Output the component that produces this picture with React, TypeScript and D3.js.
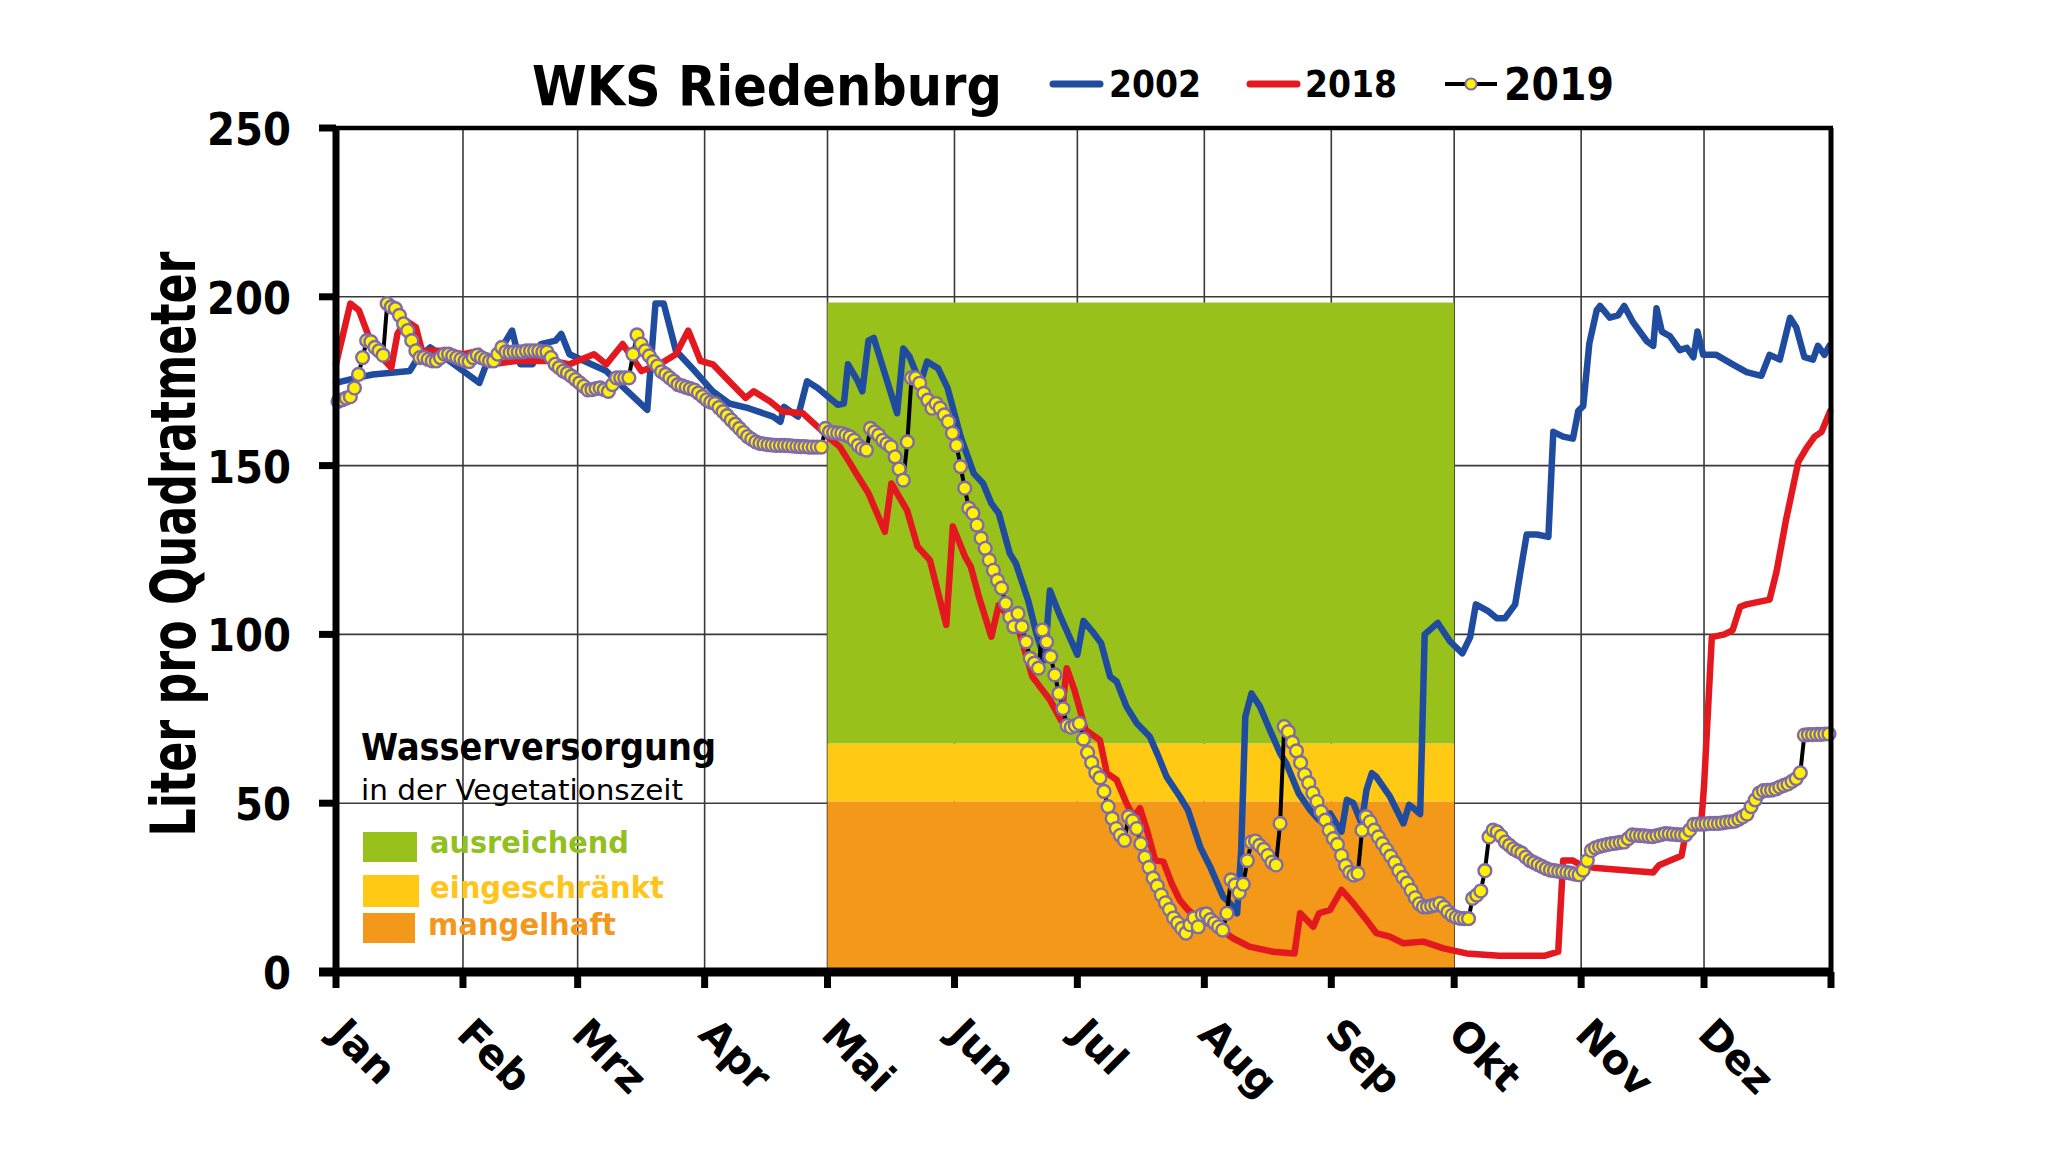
import React from 'react';
import * as d3 from 'd3';

// ---------- axis / category data ----------
const monthLabels = ['Jan', 'Feb', 'Mrz', 'Apr', 'Mai', 'Jun', 'Jul', 'Aug', 'Sep', 'Okt', 'Nov', 'Dez'];
const monthStartDays = [0, 31, 59, 90, 120, 151, 181, 212, 243, 273, 304, 334, 365];
const yTicks = [0, 50, 100, 150, 200, 250];

// ---------- supply classes (vegetation period May 1 - Oct 1) ----------
const zoneStartDay = 120;
const zoneEndDay = 273;
const zoneBounds = [0, 50.5, 67.7, 198.3];
const zoneNames = ['mangelhaft', 'eingeschränkt', 'ausreichend'];

// ---------- 2002 (day of year, value) ----------
const days2002 = [0, 5, 9, 18, 19.5, 23, 26.6, 35, 37, 40.5, 43, 45, 48, 50, 53.6, 55, 57, 60.6, 66, 69, 76, 78, 80, 83, 87.6, 92, 96, 100.7, 106.7, 108.5, 109.4, 112.8, 115, 117.6, 122.5, 124, 125, 127.4, 128.5, 130, 131.3, 137, 138.5, 140, 142.7, 144.3, 147, 149.3, 152.5, 155.7, 158, 160, 161.8, 164.5, 166, 169, 171, 173, 174.3, 176.6, 181, 182.5, 184.6, 186.8, 189, 190.6, 193, 195.5, 198.7, 200.8, 202.8, 206, 208, 211, 213.4, 216.6, 218.3, 220, 221, 222, 223.5, 225.6, 228, 230.5, 232, 235, 237.8, 240, 242.7, 244.7, 245.5, 246.8, 248.4, 250.4, 251.6, 252.9, 254, 257.3, 260.6, 262, 263.4, 264.7, 265.8, 269, 272, 275, 276.9, 278.3, 281.4, 283.4, 285.4, 287.9, 289, 290.7, 293.2, 296, 297.2, 299.6, 302, 303.3, 304.5, 306, 307.8, 308.6, 311, 313, 314.5, 316.7, 320, 321.6, 322.4, 323.7, 325.7, 328.1, 329.8, 331.4, 332.4, 333.8, 337, 341, 344.4, 348, 350, 352.5, 355, 356.5, 358.5, 360.6, 361.8, 363.4, 364.6];
const values2002 = [174.5, 176, 177, 178, 181, 185, 182, 174.5, 181, 185, 190, 180, 180, 186, 187, 189, 183, 181, 178, 174.5, 166.5, 198, 198, 184, 178, 172, 168.4, 167, 164.5, 163, 167.4, 164.5, 175, 173, 168, 168.4, 180, 175, 172, 187, 187.8, 165.5, 184.7, 182.3, 174.4, 180.8, 178.8, 173, 158.6, 147.7, 144.7, 138.8, 135.9, 124, 121, 110, 100.3, 92.4, 113, 106, 94, 104, 101, 97.4, 87.5, 86, 78.6, 73.7, 69.7, 63.8, 57.8, 52, 48, 37, 31.2, 22.3, 20.3, 17.4, 36, 75.6, 82.5, 78.6, 71.7, 64.8, 61.8, 53, 48, 45, 47, 43, 41.6, 51, 50, 44, 54, 58.9, 57.8, 52, 44, 49.5, 48.2, 46.8, 100, 103.4, 97.9, 94.4, 99.2, 108.9, 106.8, 104.8, 104.8, 108.9, 117.2, 129.6, 129.6, 128.9, 160, 158.6, 158, 166.2, 167.6, 186.2, 196, 197.3, 193.8, 194.5, 197.3, 192.4, 186.9, 185.5, 196.6, 189.7, 188.3, 184.2, 184.9, 182.1, 189.7, 182.8, 182.8, 180, 177.7, 176.6, 182.8, 181.4, 193.8, 191, 182.1, 181.4, 185.5, 182.8, 185.5];

// ---------- 2018 (day of year, value) ----------
const days2018 = [0, 3.5, 5.6, 9, 13.5, 15, 17, 19.5, 21, 26.6, 31, 35, 38, 44, 53, 57, 63, 66, 70, 74.6, 79, 83, 86, 89, 92, 96, 100, 102, 106, 109, 114, 117.6, 120, 123, 125, 127.5, 130, 134, 135.6, 139.4, 142, 145, 149, 150.6, 153.6, 155, 157, 160, 161.8, 164.5, 166.7, 170, 174.3, 177, 178.4, 180.3, 183, 186.5, 188.2, 190.6, 193, 194.7, 196.3, 198, 200, 202, 204, 206, 208, 211, 215, 219, 223, 228.8, 234, 235.4, 238.6, 240, 242.7, 245.5, 248.4, 251.6, 254, 257.3, 260.6, 265.5, 270.4, 276, 284, 295, 298.4, 299.6, 302, 304, 307, 321.6, 323, 328.5, 329.8, 333.4, 334, 335.9, 339, 341, 342.8, 344.4, 350, 351.7, 354, 357, 359, 361, 362.7, 364.8];
const values2018 = [180, 198, 196, 185, 179, 189, 193, 191, 184, 184, 183, 184, 180, 181, 181, 180, 183, 180, 186, 178, 180, 183, 190, 181, 180, 175, 170, 172, 169, 166, 165.5, 161.5, 158.6, 155.6, 151.7, 146.7, 141.8, 130.4, 144.7, 136.8, 126, 122, 102.8, 132, 123, 120, 111, 99.3, 108.7, 105, 101.3, 87.5, 80.6, 74.6, 90, 83.5, 71.7, 68.7, 58.9, 56.9, 50, 46, 48.5, 42, 33, 32.7, 26.3, 21.3, 18.4, 15.4, 13.4, 10, 7.5, 6, 5.5, 17.4, 13.4, 17.4, 18.4, 24.3, 20.3, 15.4, 11.5, 10.5, 8.5, 9, 7, 5.5, 4.8, 4.8, 6, 33, 33, 31.6, 30.9, 29.5, 31.6, 34.4, 42.7, 45.4, 55, 99.2, 100, 101.3, 108.2, 108.9, 110.3, 118.6, 133.8, 151, 155.2, 158.6, 160, 166.2];

// ---------- 2019 daily values, one array per month ----------
const v2019Jan = [169, 169.5, 170, 170.4, 173, 177, 182, 187, 186.7, 185, 184, 182.7, 198, 197, 196.5, 194.5, 192, 190, 187, 184, 182, 182, 181.5, 181, 181, 182, 183, 183, 182.5, 182, 181.5];
const v2019Feb = [181, 180.8, 182, 182.7, 182, 181.5, 181, 181, 183, 185, 183.7, 183.5, 183.7, 183.7, 183.7, 184, 184, 184, 184, 183.7, 183.7, 182, 180, 179, 178, 177.4, 176.5, 175.5];
const v2019Mar = [174.5, 173.5, 172.4, 172.5, 172.8, 173, 172.5, 172, 174, 176, 176, 176, 176, 183, 188.7, 186, 184, 182.5, 180.8, 179.5, 177.8, 177, 176, 175, 174, 173.6, 173.2, 172.8, 172.4, 171.5, 170.5];
const v2019Apr = [169.5, 168.8, 168.4, 167.2, 166, 164.8, 163.5, 162.3, 161, 159.8, 158.6, 157.8, 157, 156.6, 156.4, 156.2, 156.1, 156, 156, 156, 155.9, 155.8, 155.7, 155.6, 155.6, 155.5, 155.5, 155.5, 155.5, 161];
const v2019May = [160, 159.8, 159.6, 159.5, 159, 158.5, 157.5, 156, 155, 154.6, 161, 160, 159, 157.5, 156.5, 155.6, 152.6, 149, 145.7, 157, 176, 176, 174.4, 171.4, 169.4, 167, 168.4, 167, 165, 163, 159.6];
const v2019Jun = [156, 149.7, 143.3, 137.4, 135.9, 132.4, 128.5, 125.5, 122, 119, 116, 113.7, 109.2, 105.2, 102.3, 106.2, 102.3, 97.8, 92.9, 91.5, 90, 101.3, 97.8, 93.4, 88, 82.5, 78, 73, 72.5, 73];
const v2019Jul = [73.6, 69, 65, 62, 59, 57.5, 53.5, 49, 45.5, 42.5, 40.5, 39, 46, 44.8, 42.5, 38, 34, 31, 27.8, 25.5, 22.8, 20.5, 18.5, 16, 14.5, 12.9, 11.5, 14, 16, 13.4, 17];
const v2019Aug = [17.2, 15.5, 14.5, 13.4, 12.4, 17.4, 27.3, 25.8, 23.5, 26, 33, 38.5, 38.8, 37.5, 36.3, 34.5, 32.5, 31.7, 44, 72.7, 71.2, 68, 65.5, 62, 58.5, 56, 53, 50.5, 47.5, 45, 42];
const v2019Sep = [39.5, 37.8, 34.5, 31.5, 29.5, 28.7, 29.2, 42, 46, 44.5, 42, 40, 38, 36.2, 34.3, 32.4, 30, 28, 26.3, 24.2, 22, 20.2, 19.3, 19.3, 19.6, 19.9, 20.3, 19.2, 17.8, 16.8];
const v2019Oct = [16.2, 15.9, 15.8, 15.8, 21.8, 22.8, 24, 30, 40, 42, 41.5, 40.2, 38.5, 37.5, 36.5, 35.8, 35.2, 34, 33, 32.4, 31.8, 31.2, 30.6, 30.2, 30, 29.8, 29.7, 29.5, 29.3, 29, 28.8];
const v2019Nov = [30.2, 33, 36, 36.8, 37.2, 37.5, 37.8, 38, 38.2, 38.4, 38.5, 39.5, 40.6, 40.5, 40.4, 40.3, 40.2, 40.1, 40.4, 40.7, 41, 40.9, 40.8, 40.7, 40.6, 40.6, 42, 43.7, 43.8, 43.8];
const v2019Dec = [43.9, 44, 44, 44, 44.2, 44.4, 44.5, 44.7, 45.3, 46, 46.8, 49, 51, 53, 53.7, 53.8, 53.9, 54.2, 54.8, 55.3, 55.7, 56.5, 57.3, 59, 70.2, 70.3, 70.3, 70.4, 70.4, 70.5, 70.5];

const FONT = '"DejaVu Sans", Verdana, sans-serif';
const BLUE = '#1F4C9E';
const RED = '#E3191F';
const ZONE_COLORS = ['#F39819', '#FFC914', '#98C11C'];
const ZONE_TEXT = ['#F3981C', '#FFC51A', '#92C01F'];
const MARK_FILL = '#FFF200';
const MARK_STROKE = '#7F6AAA';

export default function App() {
  const x = d3.scaleLinear().domain([0, 365]).range([336, 1831]);
  const y = d3.scaleLinear().domain([0, 250]).range([972, 128]);

  const pts2002: [number, number][] = days2002.map((d, i) => [d, values2002[i]]);
  const pts2018: [number, number][] = days2018.map((d, i) => [d, values2018[i]]);
  const all2019 = [
    ...v2019Jan, ...v2019Feb, ...v2019Mar, ...v2019Apr, ...v2019May, ...v2019Jun,
    ...v2019Jul, ...v2019Aug, ...v2019Sep, ...v2019Oct, ...v2019Nov, ...v2019Dec,
  ];
  const pts2019: [number, number][] = all2019.map((v, i) => [i + 0.5, v]);

  const line = d3
    .line<[number, number]>()
    .x((d) => x(d[0]))
    .y((d) => y(d[1]));

  const [x0, x1] = x.range();
  const [yb, yt] = y.range();

  return (
    <svg
      width={2048}
      height={1152}
      viewBox="0 0 2048 1152"
      style={{ position: 'absolute', left: 0, top: 0, background: '#fff' }}
      fontFamily={FONT}
    >
      <rect x={0} y={0} width={2048} height={1152} fill="#fff" />

      {/* grid */}
      <g stroke="#3a3a3a" strokeWidth={1.6}>
        {monthStartDays.slice(1, -1).map((d) => (
          <line key={'gv' + d} x1={x(d)} x2={x(d)} y1={yt} y2={yb} />
        ))}
        {yTicks.slice(1, -1).map((t) => (
          <line key={'gh' + t} x1={x0} x2={x1} y1={y(t)} y2={y(t)} />
        ))}
      </g>

      {/* supply zones */}
      {zoneNames.map((n, i) => (
        <rect
          key={n}
          x={x(zoneStartDay)}
          width={x(zoneEndDay) - x(zoneStartDay)}
          y={y(zoneBounds[i + 1])}
          height={y(zoneBounds[i]) - y(zoneBounds[i + 1])}
          fill={ZONE_COLORS[i]}
        />
      ))}

      {/* series */}
      <path d={line(pts2002) || ''} fill="none" stroke={BLUE} strokeWidth={6.5} strokeLinejoin="round" strokeLinecap="round" />
      <path d={line(pts2018) || ''} fill="none" stroke={RED} strokeWidth={6.5} strokeLinejoin="round" strokeLinecap="round" />
      <path d={line(pts2019) || ''} fill="none" stroke="#000" strokeWidth={4} strokeLinejoin="round" />
      <g fill={MARK_FILL} stroke={MARK_STROKE} strokeWidth={2.4}>
        {pts2019.map((p, i) => (
          <circle key={'m' + i} cx={x(p[0])} cy={y(p[1])} r={6.4} />
        ))}
      </g>

      {/* frame */}
      <line x1={x0 - 2} x2={x1 + 2} y1={yt} y2={yt} stroke="#000" strokeWidth={4.5} />
      <line x1={x1} x2={x1} y1={yt} y2={yb} stroke="#000" strokeWidth={5} />
      <line x1={x0} x2={x0} y1={yt - 2} y2={yb} stroke="#000" strokeWidth={7} />
      <line x1={x0 - 17} x2={x1 + 2} y1={yb} y2={yb} stroke="#000" strokeWidth={9} />

      {/* y ticks + labels */}
      {yTicks.map((t) => (
        <g key={'yt' + t}>
          <line x1={x0 - 17} x2={x0} y1={y(t)} y2={y(t)} stroke="#000" strokeWidth={7} />
          <text
            x={291}
            y={y(t) + 17}
            textAnchor="end"
            fontSize={44}
            fontWeight="bold"
            textLength={String(t).length * 28}
            lengthAdjust="spacingAndGlyphs"
          >
            {t}
          </text>
        </g>
      ))}

      {/* x ticks + labels */}
      {monthStartDays.map((d) => (
        <line key={'xt' + d} x1={x(d)} x2={x(d)} y1={yb} y2={988} stroke="#000" strokeWidth={7} />
      ))}
      {monthLabels.map((m, i) => {
        const tx = x(monthStartDays[i]) - 8;
        const ty = 1036;
        return (
          <text
            key={m}
            x={tx}
            y={ty}
            transform={`rotate(45 ${tx} ${ty})`}
            fontSize={41}
            fontWeight="bold"
          >
            {m}
          </text>
        );
      })}

      {/* y title */}
      <text
        x={0}
        y={0}
        transform="translate(195 544) rotate(-90)"
        textAnchor="middle"
        fontSize={62}
        fontWeight="bold"
        textLength={585}
        lengthAdjust="spacingAndGlyphs"
      >
        Liter pro Quadratmeter
      </text>

      {/* title */}
      <text x={532} y={105} fontSize={55} fontWeight="bold" textLength={470} lengthAdjust="spacingAndGlyphs">
        WKS Riedenburg
      </text>

      {/* top legend */}
      <line x1={1053} x2={1100} y1={84} y2={84} stroke={BLUE} strokeWidth={7} strokeLinecap="round" />
      <text x={1109} y={97} fontSize={38} fontWeight="bold" textLength={92} lengthAdjust="spacingAndGlyphs">2002</text>
      <line x1={1250} x2={1297} y1={84} y2={84} stroke={RED} strokeWidth={7} strokeLinecap="round" />
      <text x={1305} y={97} fontSize={38} fontWeight="bold" textLength={92} lengthAdjust="spacingAndGlyphs">2018</text>
      <line x1={1445} x2={1497} y1={84} y2={84} stroke="#000" strokeWidth={4} />
      <circle cx={1471} cy={84} r={5.6} fill={MARK_FILL} stroke={MARK_STROKE} strokeWidth={2} />
      <text x={1504} y={100} fontSize={44} fontWeight="bold" textLength={110} lengthAdjust="spacingAndGlyphs">2019</text>

      {/* supply legend */}
      <text x={361} y={760} fontSize={37} fontWeight="bold" textLength={355} lengthAdjust="spacingAndGlyphs">
        Wasserversorgung
      </text>
      <text x={361} y={800} fontSize={29} textLength={322} lengthAdjust="spacingAndGlyphs">
        in der Vegetationszeit
      </text>
      <rect x={363} y={832} width={54} height={30} fill={ZONE_COLORS[2]} />
      <text x={430} y={853} fontSize={30} fontWeight="bold" fill={ZONE_TEXT[2]} textLength={199} lengthAdjust="spacingAndGlyphs">
        {zoneNames[2]}
      </text>
      <rect x={363} y={875} width={56} height={32} fill={ZONE_COLORS[1]} />
      <text x={430} y={898} fontSize={30} fontWeight="bold" fill={ZONE_TEXT[1]} textLength={234} lengthAdjust="spacingAndGlyphs">
        {zoneNames[1]}
      </text>
      <rect x={363} y={913} width={52} height={30} fill={ZONE_COLORS[0]} />
      <text x={428} y={935} fontSize={30} fontWeight="bold" fill={ZONE_TEXT[0]} textLength={188} lengthAdjust="spacingAndGlyphs">
        {zoneNames[0]}
      </text>
    </svg>
  );
}
